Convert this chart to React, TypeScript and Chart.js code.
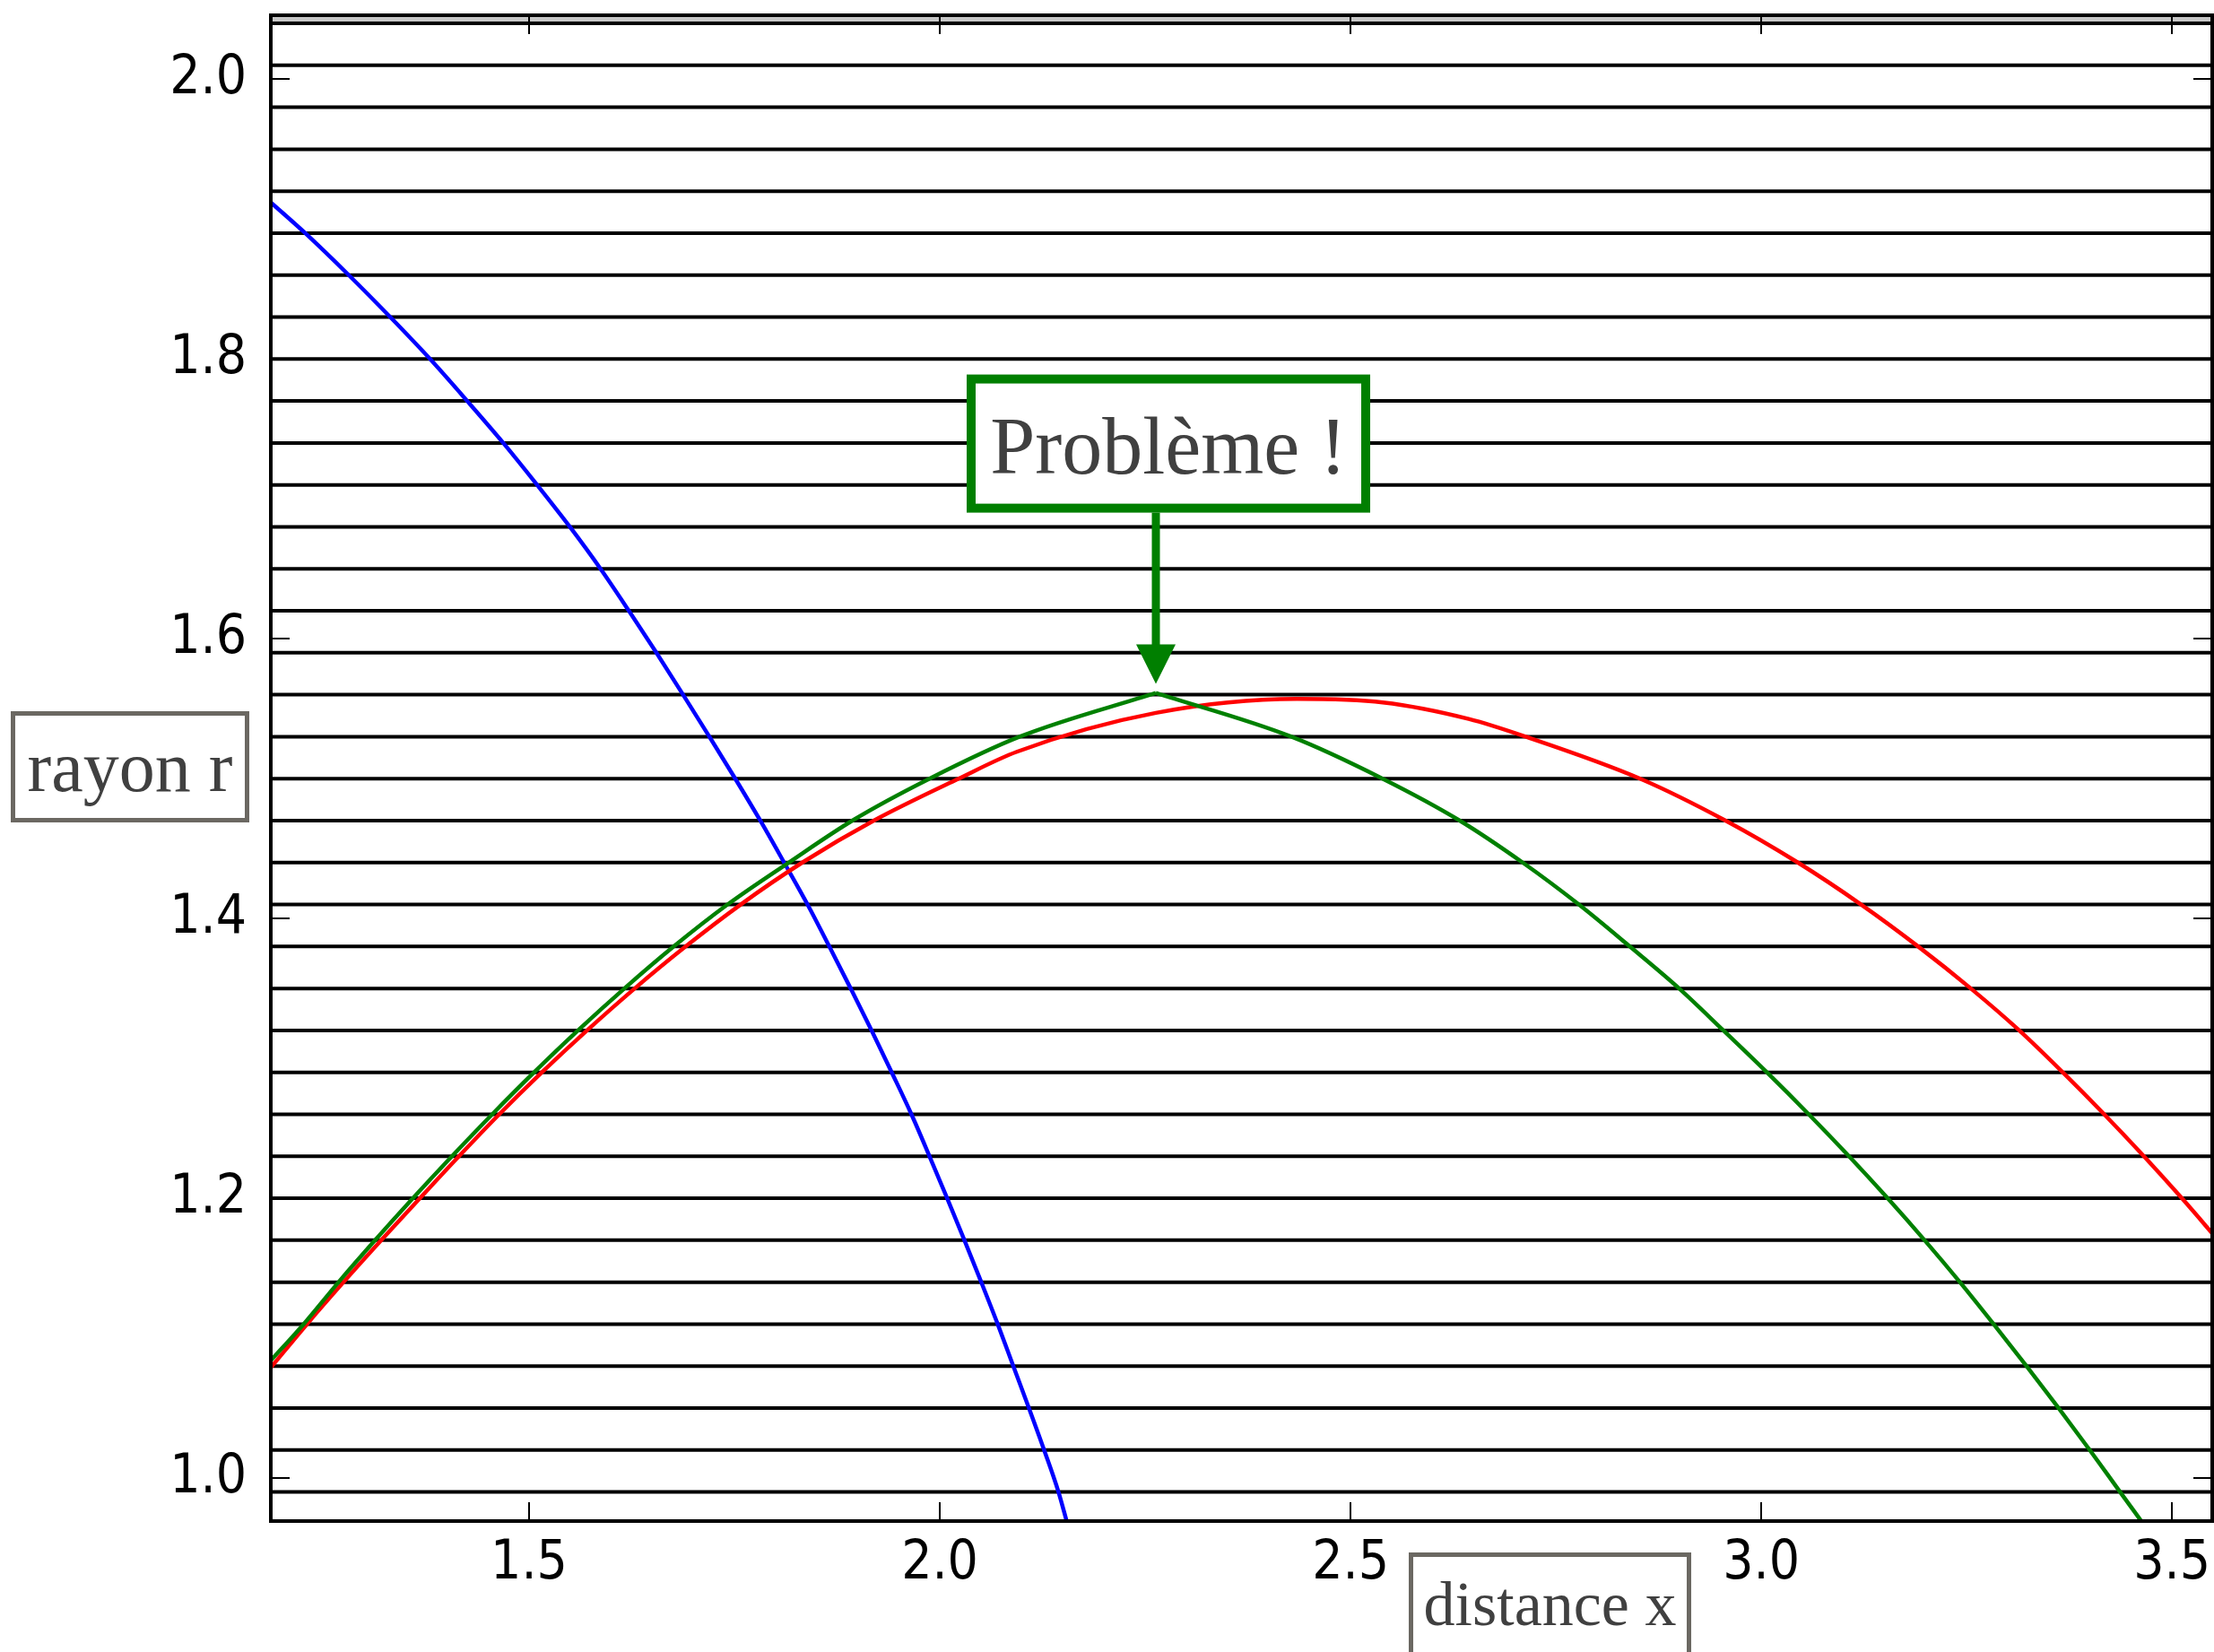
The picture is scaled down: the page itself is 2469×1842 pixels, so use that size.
import { useEffect, useRef } from 'react';
import { Chart, registerables } from 'chart.js';

Chart.register(...registerables);

// ---- data ----
const blueX = [1.1856, 1.2275, 1.2805, 1.331, 1.3795, 1.4247, 1.4686, 1.5098, 1.5497, 1.587, 1.6215, 1.655, 1.6875, 1.7195, 1.751, 1.7815, 1.8105, 1.839, 1.8655, 1.8915, 1.917, 1.9415, 1.9655, 1.9875, 2.009, 2.03, 2.0505, 2.0705, 2.0895, 2.1085, 2.127, 2.1445, 2.1545];
const blueY = [1.912, 1.89, 1.86, 1.83, 1.8, 1.77, 1.74, 1.71, 1.68, 1.65, 1.62, 1.59, 1.56, 1.53, 1.5, 1.47, 1.44, 1.41, 1.38, 1.35, 1.32, 1.29, 1.26, 1.23, 1.2, 1.17, 1.14, 1.11, 1.08, 1.05, 1.02, 0.99, 0.969];

const redX = [1.1856, 1.2296, 1.2741, 1.3201, 1.3671, 1.4146, 1.4636, 1.5156, 1.5706, 1.6286, 1.6906, 1.7576, 1.8326, 1.9196, 2.023, 2.0938, 2.263, 2.4349, 2.5394, 2.6439, 2.7134, 2.8526, 2.9566, 3.0446, 3.1216, 3.1911, 3.2551, 3.3141, 3.3671, 3.4176, 3.4659, 3.5121, 3.5563];
const redY = [1.079, 1.11, 1.14, 1.17, 1.2, 1.23, 1.26, 1.29, 1.32, 1.35, 1.38, 1.41, 1.44, 1.47, 1.5, 1.5192, 1.547, 1.557, 1.5545, 1.5427, 1.53, 1.5, 1.47, 1.44, 1.41, 1.38, 1.35, 1.32, 1.29, 1.26, 1.23, 1.2, 1.17];

// green curve: rising branch up to the sharp peak, then falling branch
const greenRiseX = [1.1856, 1.2256, 1.2681, 1.3126, 1.3586, 1.4061, 1.4551, 1.5061, 1.5596, 1.6161, 1.6761, 1.7416, 1.8161, 1.8935, 1.9875, 2.0972, 2.263];
const greenRiseY = [1.084, 1.11, 1.14, 1.17, 1.2, 1.23, 1.26, 1.29, 1.32, 1.35, 1.38, 1.41, 1.44, 1.47, 1.5, 1.53, 1.5613];
const greenFallX = [2.263, 2.428, 2.539, 2.633, 2.7096, 2.778, 2.84, 2.9, 2.9539, 3.0069, 3.0579, 3.1069, 3.1539, 3.1989, 3.2419, 3.2829, 3.3229, 3.3619, 3.3999, 3.4369, 3.4629];
const greenFallY = [1.5613, 1.53, 1.5, 1.47, 1.44, 1.41, 1.38, 1.35, 1.32, 1.29, 1.26, 1.23, 1.2, 1.17, 1.14, 1.11, 1.08, 1.05, 1.02, 0.99, 0.969];

// horizontal reference lines
const levelLines = [0.99, 1.02, 1.05, 1.08, 1.11, 1.14, 1.17, 1.2, 1.23, 1.26, 1.29, 1.32, 1.35, 1.38, 1.41, 1.44, 1.47, 1.5, 1.53, 1.56, 1.59, 1.62, 1.65, 1.68, 1.71, 1.74, 1.77, 1.8, 1.83, 1.86, 1.89, 1.92, 1.95, 1.98, 2.01, 2.04];

const xTicks = [1.5, 2.0, 2.5, 3.0, 3.5];
const yTicks = [1.0, 1.2, 1.4, 1.6, 1.8, 2.0];
const xLimits = [1.1856, 3.549];
const yLimits = [0.9692, 2.0458];

const problemPoint = { x: 2.263, y: 1.5613 };
const problemText = 'Problème !';
const xLabel = 'distance x';
const yLabel = 'rayon r';

const GREEN = '#007f00';
const TEXT = '#404040';
const BOXGRAY = '#6b6862';
const SERIF = '"Liberation Serif", "Times New Roman", serif';
const TICKFONT = '"DejaVu Sans Condensed", "DejaVu Sans", sans-serif';

const toPts = (xs: number[], ys: number[]) => xs.map((x, i) => ({ x, y: ys[i] }));

export default function App() {
  const ref = useRef<HTMLCanvasElement>(null);

  useEffect(() => {
    const canvas = ref.current;
    if (!canvas) return;

    const decor = {
      id: 'decor',
      beforeDatasetsDraw(chart: any) {
        const { ctx, chartArea: a, scales } = chart;
        const y = scales.y;
        ctx.save();
        ctx.beginPath();
        ctx.rect(a.left, a.top, a.right - a.left, a.bottom - a.top);
        ctx.clip();
        const yTopLine = y.getPixelForValue(levelLines[levelLines.length - 1]);
        ctx.fillStyle = '#c6c6c6';
        ctx.fillRect(a.left, a.top, a.right - a.left, yTopLine - a.top);
        ctx.strokeStyle = '#000';
        ctx.lineWidth = 4;
        for (const v of levelLines) {
          const py = y.getPixelForValue(v);
          ctx.beginPath();
          ctx.moveTo(a.left, py);
          ctx.lineTo(a.right, py);
          ctx.stroke();
        }
        ctx.restore();
      },
      afterDatasetsDraw(chart: any) {
        const { ctx, chartArea: a, scales } = chart;
        const x = scales.x;
        const y = scales.y;
        ctx.save();
        // frame
        ctx.strokeStyle = '#000';
        ctx.lineWidth = 4;
        ctx.strokeRect(a.left, a.top, a.right - a.left, a.bottom - a.top);
        // inward ticks on all sides
        ctx.lineWidth = 2;
        const tl = 21;
        for (const v of xTicks) {
          const px = Math.round(x.getPixelForValue(v));
          ctx.beginPath();
          ctx.moveTo(px, a.bottom);
          ctx.lineTo(px, a.bottom - tl);
          ctx.moveTo(px, a.top);
          ctx.lineTo(px, a.top + tl);
          ctx.stroke();
        }
        for (const v of yTicks) {
          const py = Math.round(y.getPixelForValue(v));
          ctx.beginPath();
          ctx.moveTo(a.left, py);
          ctx.lineTo(a.left + tl, py);
          ctx.moveTo(a.right, py);
          ctx.lineTo(a.right - tl, py);
          ctx.stroke();
        }

        // annotation "Problème !"
        const ax = Math.round(x.getPixelForValue(problemPoint.x));
        const tipY = y.getPixelForValue(problemPoint.y) - 10;
        const headH = 44;
        const headW = 44;
        const shaftW = 9;
        const boxW = 450;
        const boxH = 154;
        const boxTop = tipY - 345;
        const boxCx = ax + 14;
        const boxLeft = boxCx - boxW / 2;
        ctx.fillStyle = '#fff';
        ctx.fillRect(boxLeft, boxTop, boxW, boxH);
        ctx.strokeStyle = GREEN;
        ctx.lineWidth = 10;
        ctx.strokeRect(boxLeft + 5, boxTop + 5, boxW - 10, boxH - 10);
        ctx.fillStyle = TEXT;
        ctx.font = `90px ${SERIF}`;
        ctx.textAlign = 'center';
        ctx.textBaseline = 'alphabetic';
        ctx.fillText(problemText, boxCx, boxTop + 110);
        ctx.fillStyle = GREEN;
        ctx.fillRect(ax - shaftW / 2, boxTop + boxH, shaftW, tipY - headH - (boxTop + boxH) + 1);
        ctx.beginPath();
        ctx.moveTo(ax - headW / 2, tipY - headH);
        ctx.lineTo(ax + headW / 2, tipY - headH);
        ctx.lineTo(ax, tipY);
        ctx.closePath();
        ctx.fill();
        ctx.restore();
      },
      afterDraw(chart: any) {
        const { ctx } = chart;
        ctx.save();
        ctx.textAlign = 'center';
        ctx.textBaseline = 'alphabetic';
        // y label box
        ctx.fillStyle = '#fff';
        ctx.fillRect(12, 793, 266, 124);
        ctx.strokeStyle = BOXGRAY;
        ctx.lineWidth = 5;
        ctx.strokeRect(14.5, 795.5, 261, 119);
        ctx.fillStyle = TEXT;
        ctx.font = `80px ${SERIF}`;
        ctx.fillText(yLabel, 145, 882);
        // x label box
        ctx.fillStyle = '#fff';
        ctx.fillRect(1571, 1731, 315, 120);
        ctx.strokeStyle = BOXGRAY;
        ctx.strokeRect(1573.5, 1733.5, 310, 112);
        ctx.fillStyle = TEXT;
        ctx.font = `70px ${SERIF}`;
        ctx.fillText(xLabel, 1728.5, 1812);
        ctx.restore();
      },
    };

    const tickFont = { family: TICKFONT, size: 60 };
    const curve = (data: any, color: string) => ({
      data,
      borderColor: color,
      backgroundColor: color,
      borderWidth: 4.5,
      showLine: true,
      pointRadius: 0,
      fill: false,
      cubicInterpolationMode: 'monotone',
    });

    const chart = new Chart(canvas, {
      type: 'scatter',
      data: {
        datasets: [
          { label: 'green rise', ...curve(toPts(greenRiseX, greenRiseY), '#008000') },
          { label: 'green fall', ...curve(toPts(greenFallX, greenFallY), '#008000') },
          { label: 'red', ...curve(toPts(redX, redY), '#ff0000') },
          { label: 'blue', ...curve(toPts(blueX, blueY), '#0000ff') },
        ],
      },
      options: {
        animation: false,
        responsive: false,
        devicePixelRatio: 1,
        layout: { padding: { top: 17, right: 2, left: 0, bottom: 0 } },
        plugins: { legend: { display: false }, tooltip: { enabled: false } },
        elements: { point: { radius: 0 }, line: { borderJoinStyle: 'round' } },
        scales: {
          x: {
            type: 'linear',
            min: xLimits[0],
            max: xLimits[1],
            grid: { display: false, drawTicks: false },
            border: { display: false },
            afterBuildTicks: (s: any) => { s.ticks = xTicks.map((v) => ({ value: v })); },
            afterFit: (s: any) => { s.height = 146; s.paddingLeft = 0; s.paddingRight = 0; },
            ticks: { padding: 12, font: tickFont, color: '#000', autoSkip: false, maxRotation: 0, callback: (v: any) => Number(v).toFixed(1) },
          },
          y: {
            type: 'linear',
            min: yLimits[0],
            max: yLimits[1],
            grid: { display: false, drawTicks: false },
            border: { display: false },
            afterBuildTicks: (s: any) => { s.ticks = yTicks.map((v) => ({ value: v })); },
            afterFit: (s: any) => { s.width = 302; s.paddingTop = 0; s.paddingBottom = 0; },
            ticks: { padding: 27, labelOffset: 0, font: tickFont, color: '#000', autoSkip: false, callback: (v: any) => Number(v).toFixed(1) },
          },
        },
      } as any,
      plugins: [decor],
    });

    return () => chart.destroy();
  }, []);

  return (
    <canvas
      ref={ref}
      width={2469}
      height={1842}
      style={{ position: 'absolute', left: 0, top: 0, width: 2469, height: 1842 }}
    />
  );
}
